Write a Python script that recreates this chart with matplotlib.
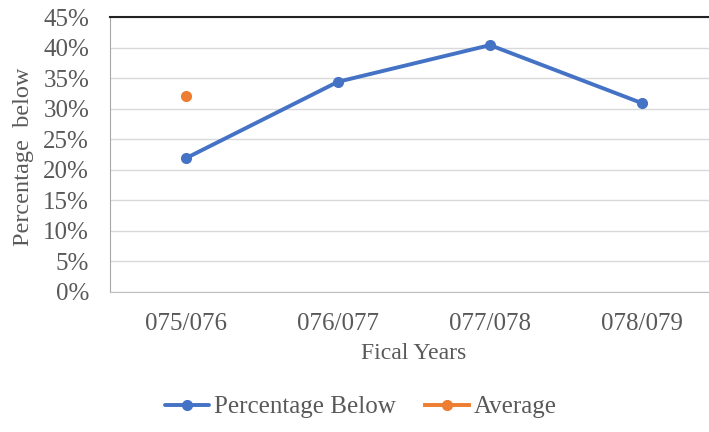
import matplotlib.pyplot as plt
from matplotlib.ticker import PercentFormatter

plt.rcParams['font.family'] = ['Liberation Serif', 'DejaVu Serif']

years = ["075/076", "076/077", "077/078", "078/079"]
pct_below = [21.9, 34.4, 40.4, 30.9]
average = [32.0]

text_grey = '#595959'
blue = '#4472C4'
orange = '#ED7D31'

fig = plt.figure(figsize=(7.09, 4.32), dpi=100)
# axes runs off the right edge of the figure
ax = fig.add_axes([110 / 709, 140 / 432, 608 / 709, 275 / 432])

x = list(range(len(years)))
ax.plot(x, pct_below, color=blue, lw=2.8, marker='o', ms=7, label='Percentage Below',
        solid_capstyle='round', zorder=3)
ax.plot(x[:len(average)], average, color=orange, lw=2.8, marker='o', ms=7,
        label='Average', zorder=3)

ax.set_xlim(-0.5, 3.5)
ax.set_ylim(0, 45)
ax.set_yticks(range(0, 46, 5))
ax.yaxis.set_major_formatter(PercentFormatter(decimals=0))
ax.set_xticks(x)
ax.set_xticklabels(years)
ax.grid(axis='y', color='#d9d9d9', lw=1)
ax.set_axisbelow(True)

ax.tick_params(length=0, labelcolor=text_grey, labelsize=18)
ax.tick_params(axis='y', pad=15)
ax.tick_params(axis='x', pad=15)

ax.spines['right'].set_visible(False)
ax.spines['top'].set_color('#222222')
ax.spines['top'].set_linewidth(1.5)
ax.spines['left'].set_color('#a6a6a6')
ax.spines['bottom'].set_color('#bfbfbf')

ax.set_ylabel('Percentage  below', fontsize=17.5, color=text_grey)
ax.yaxis.set_label_coords(-0.125, 0.493)
ax.set_xlabel('Fical Years', fontsize=17, color=text_grey)
ax.xaxis.set_label_coords(0.5, -0.185)

leg = fig.legend(loc='center', bbox_to_anchor=(361 / 709, 1 - 407 / 432), ncol=2,
                 frameon=False, fontsize=18, handlelength=1.75, handletextpad=0.2,
                 columnspacing=1.2)
for t in leg.get_texts():
    t.set_color(text_grey)

fig.savefig('out.png', dpi=100)
